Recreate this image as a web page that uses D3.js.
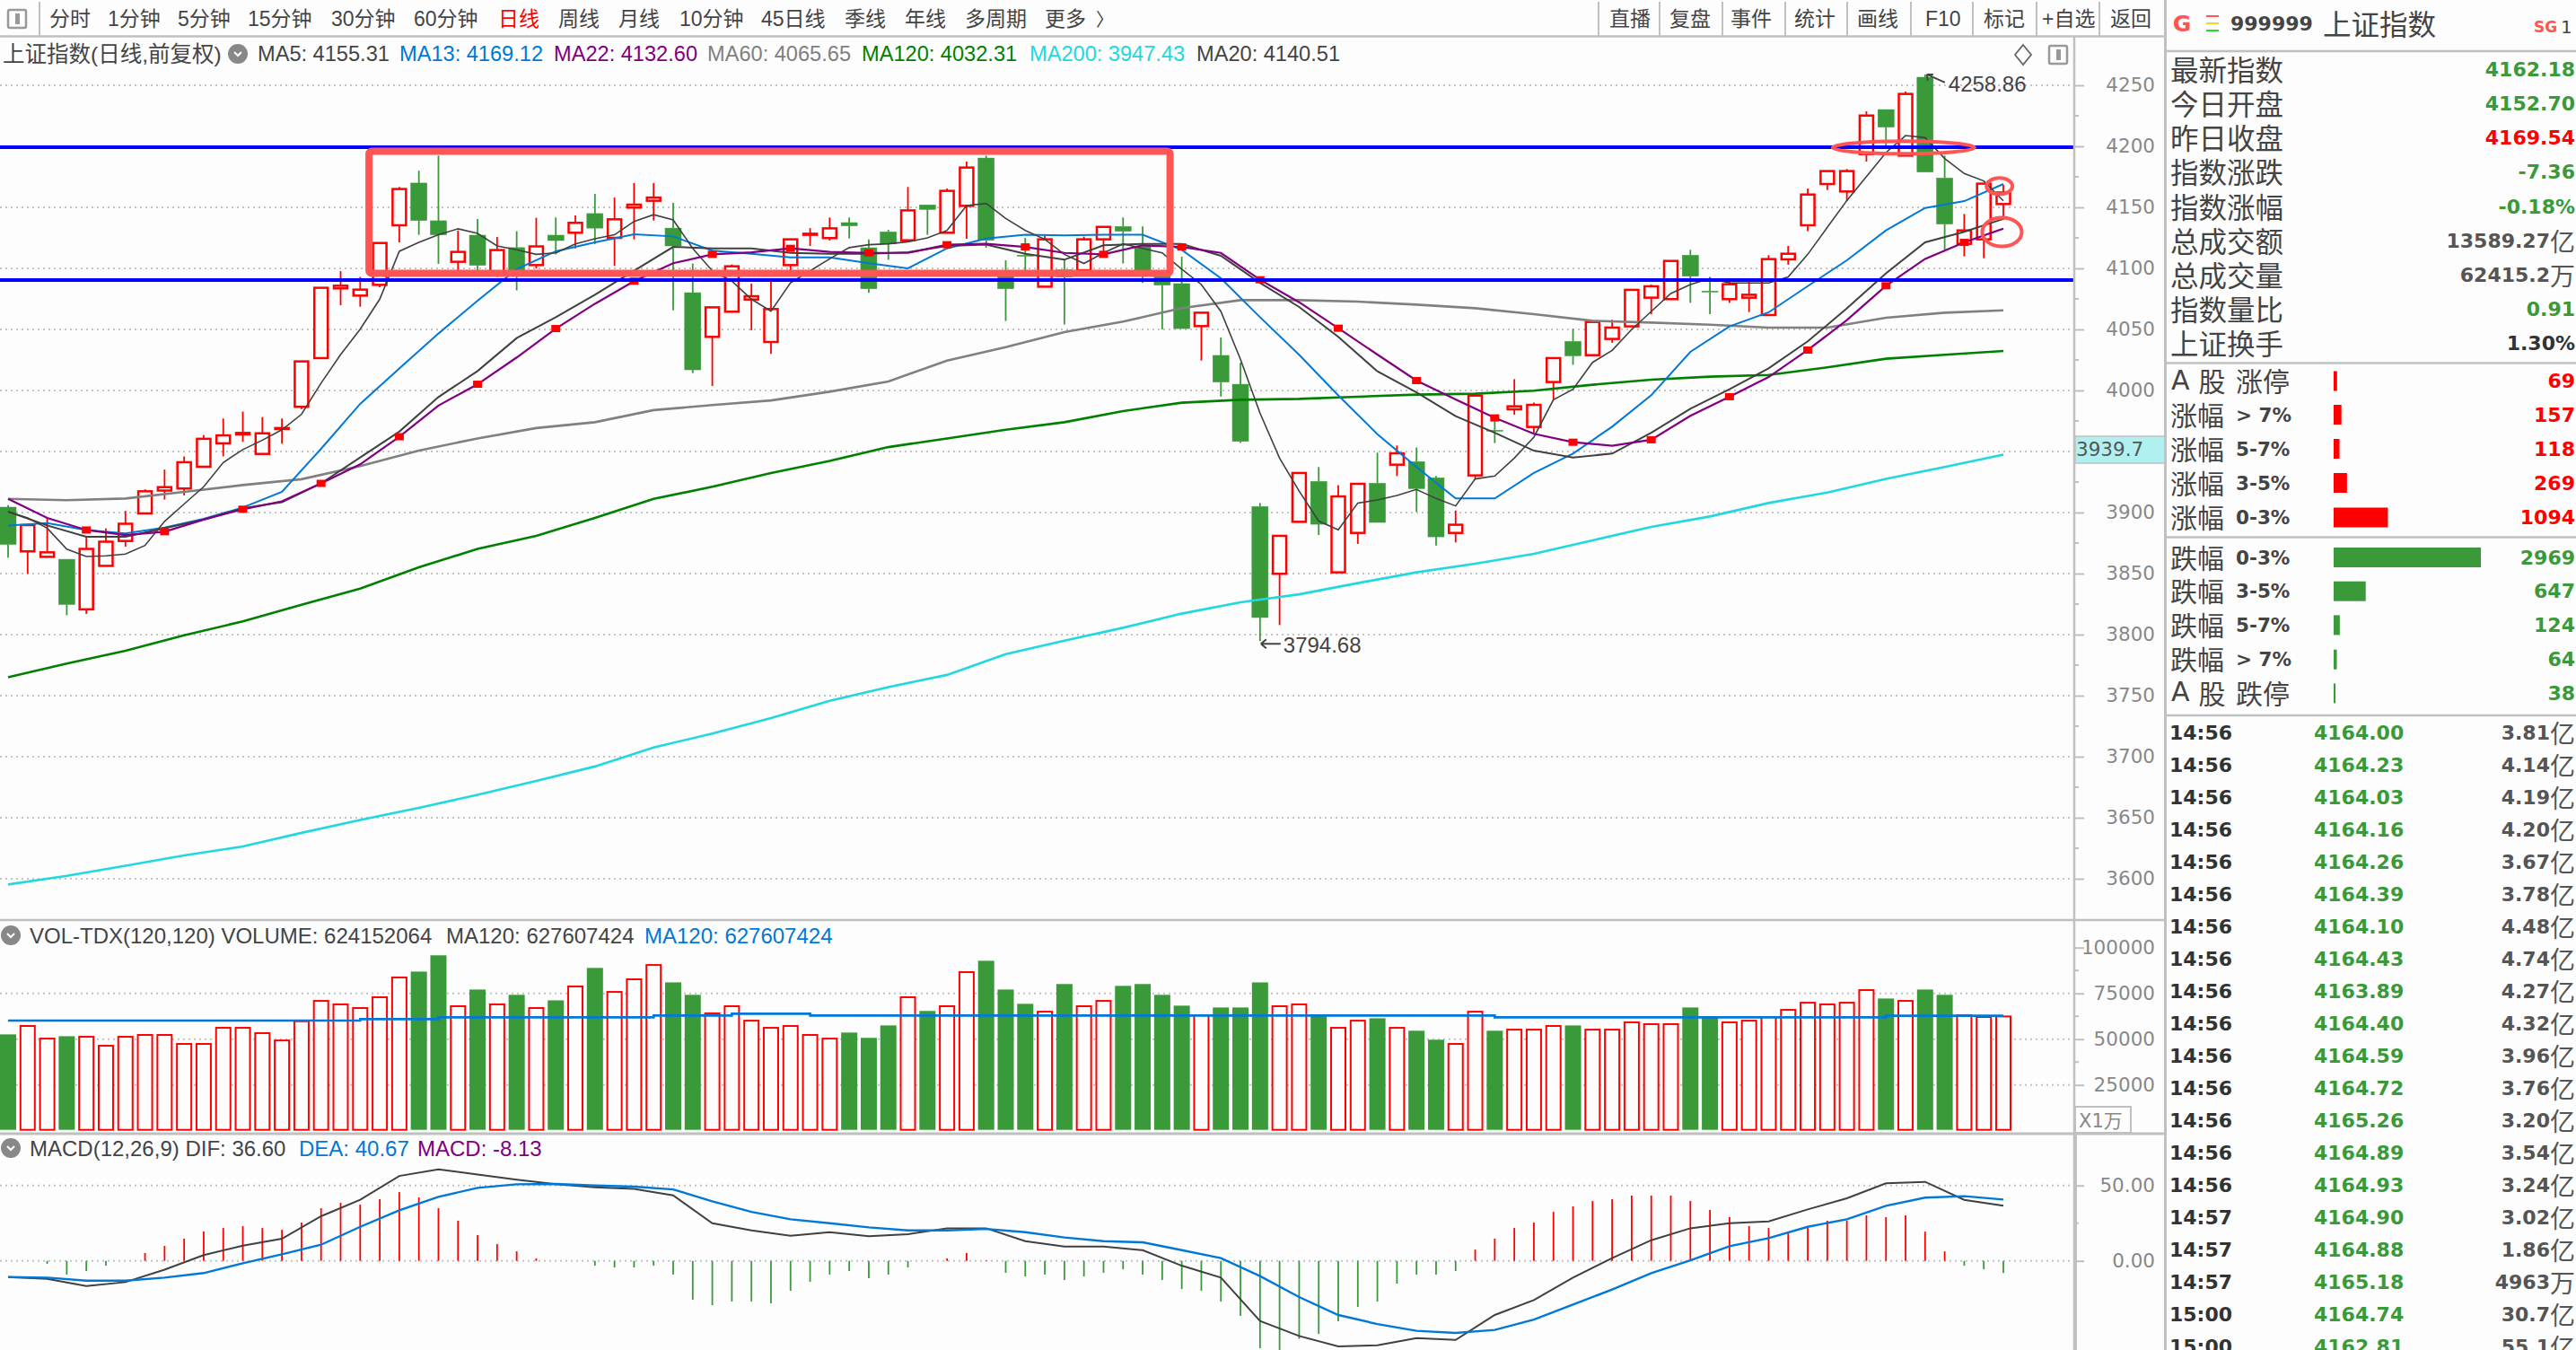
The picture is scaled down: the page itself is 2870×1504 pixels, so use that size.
<!DOCTYPE html>
<html>
<head>
<meta charset="utf-8">
<script src="https://cdn.jsdelivr.net/npm/d3@7"></script>
<style>
html,body{margin:0;padding:0;background:#fdfdfd;overflow:hidden}
svg{display:block}
</style>
</head>
<body>
<div id="chart"></div>
<script>
// daily candles, index 0..102
var opens = [3904.4,3868.2,3863.7,3861.7,3820.7,3856.3,3876.7,3899.3,3918,3919.7,3937.5,3956.7,3964,3948,3968.6,3986.6,4026.5,4083.6,4077.7,4086.5,4135.3,4169.9,4139,4105.4,4127.2,4095,4117,4102.7,4127.2,4129.2,4144.9,4125,4149.8,4155.4,4133,4080.1,4043.9,4064.5,4074.5,4039.7,4102.7,4127.5,4124.8,4137.5,4116.9,4129.9,4123,4152,4129.2,4151.2,4190.4,4095.6,4110.8,4085,4098.8,4098.5,4123.8,4134.3,4118.4,4097,4087.5,4052.7,4028.7,4005.1,3904.9,3849.8,3892.4,3925.5,3851,3883.3,3924,3939.2,3941.7,3928.4,3883.3,3930.4,3967.4,3984.6,3970.1,4006.9,4040.2,4028.9,4042.2,4052.5,4076,4074.8,4110.8,4081.4,4074.8,4076,4061.8,4107.4,4135.3,4169.1,4163,4193.6,4230.1,4192.4,4256.6,4174,4120.1,4123.8,4152.7];
var highs = [3906,3889.7,3895.6,3861.7,3880,3887,3901.3,3919,3935.2,3946,3963.5,3977,3982.7,3978.2,3977,4023.8,4084.1,4097.8,4093,4120.8,4166.7,4180,4192.4,4131,4140.4,4125.7,4130.4,4141.4,4141.7,4143.4,4161,4158,4169.9,4169.9,4153.7,4104,4068.1,4103.2,4087.5,4089.5,4123.8,4133,4141.7,4141.7,4123.8,4131.6,4166.7,4152,4165.4,4187.5,4192.4,4106.6,4125,4126.7,4106.6,4126,4134,4141.7,4134.3,4097,4109.6,4063.7,4043.4,4022.8,3907.8,3880.9,3932.4,3937.3,3922.5,3923.5,3949,3954.9,3953.2,3929.9,3901.7,3995.8,3975.2,4009.3,3990,4026.5,4050.5,4056.1,4057.8,4082.4,4086.8,4106.1,4115.2,4093.1,4090,4089.5,4110.8,4118.4,4165.4,4179.7,4181.4,4228.7,4230.1,4244.9,4258.86,4192.4,4144.6,4169.4,4168.4];
var lows = [3863,3849.8,3863.7,3815.9,3817,3856.3,3872,3899.3,3910.6,3914,3937.5,3946,3957.9,3948,3956.4,3984.7,4026.5,4069.9,4068.6,4084.6,4121.3,4127.5,4103.7,4096.8,4098,4093,4082,4100,4111.5,4116.4,4120,4102,4123.8,4139.2,4065.7,4014.2,4003.7,4064.5,4049.3,4030,4098,4118.4,4122.8,4124.5,4080,4107,4123,4127.5,4129.2,4124.3,4116.9,4056.9,4098,4085,4054,4098.5,4110,4104,4088,4050,4050.7,4024.5,3995,3957,3794.68,3807.8,3892.4,3881.6,3851,3874.3,3891.9,3929.9,3900.5,3873,3875.5,3927.5,3956.9,3980.1,3965.4,3992.4,4021,4028.9,4039,4052.5,4062.3,4074.8,4071.8,4062.5,4071.8,4064.2,4061.8,4103,4130.6,4164.2,4155.1,4187.5,4199.8,4192.4,4178.9,4115.2,4109.8,4108.3,4139.7];
var closes = [3873.9,3889.7,3867.4,3824.7,3870.2,3876.1,3890.8,3917.4,3920.8,3941.2,3960.4,3963.2,3965.2,3964.9,3969.2,4023.8,4084.1,4085.8,4082.6,4120.8,4165,4139.2,4127.5,4113.5,4102.5,4115,4098,4118,4122.8,4137.3,4133,4140.2,4152.2,4158,4118.4,4016.9,4068.1,4101.7,4077.2,4066.7,4123.8,4128.4,4132.8,4134.8,4083.3,4120,4147.5,4148.3,4163.5,4182.6,4123,4083.3,4110,4123.8,4093,4123.8,4134,4130.4,4098,4086.3,4050.7,4063.7,4006.9,3958.3,3814,3880.9,3932.4,3890.4,3913.2,3923.5,3891.9,3948.5,3919.6,3880.1,3890,3995.8,3967,3987,3988.2,4026.5,4028.4,4056.1,4051.5,4082.4,4085.3,4106.1,4093.6,4080.6,4087,4078.4,4107.6,4112,4160.5,4179.7,4179.7,4225.2,4215.7,4242.9,4178.9,4136.3,4131.1,4169.4,4162.18];

// moving averages
var ma5 = [3900.7,3895.6,3887.2,3870,3864,3864.5,3866,3873,3892.8,3907,3921.1,3941,3951.6,3959.3,3967.8,3980.5,4006,4029.4,4050.2,4074.8,4114,4121.3,4127.5,4132.4,4128.7,4118.4,4115.2,4111.5,4112.7,4120.1,4124.3,4127.5,4138.5,4144,4139.7,4116.4,4098,4089.5,4074.8,4065,4088.2,4098,4107.8,4117,4119.4,4120.1,4121.8,4125,4131.1,4151.5,4153.2,4140.9,4131.1,4123.8,4111.5,4104,4112.7,4120.1,4116.4,4112.7,4099.3,4086.8,4064.7,4025.5,3981.4,3944.6,3917.6,3893,3885.8,3907.8,3910.3,3914,3918.9,3911.5,3905.4,3927.5,3929.9,3944.6,3961.8,3992.4,4001,4023,4032.8,4050,4064.7,4079.4,4086.8,4091.7,4088,4088,4088,4093,4111.5,4133.6,4155.6,4175.2,4194.9,4208.8,4207.1,4190,4177.7,4171.6,4155.31];
var ma13 = [3889.4,3891.4,3885.7,3882.9,3887.7,3894.8,3904.1,3916.9,3952.2,3989,4018,4046.6,4073.5,4099.3,4114,4121.3,4127.9,4126.2,4114.5,4112,4109,4109,4104.2,4100,4116.4,4124.5,4127.5,4127,4127.5,4127.5,4115.2,4091.9,4060,4029.2,3996,3964.2,3937.3,3911.5,3911.5,3932.4,3948.3,3970.3,3996.1,4031.6,4052.5,4064,4085.5,4106.6,4131.1,4149.5,4155.1,4169.12];
var ma20 = [3900.7,3889.4,3880.1,3880.1,3887.2,3894.2,3903.6,3908.4,3923.9,3945.1,3966.3,3994.6,4015.9,4042.9,4060,4078.4,4098,4117.6,4116.4,4116.4,4112.7,4112,4112,4113.2,4118.4,4119.4,4112,4107.1,4118.9,4120.1,4120,4110.3,4088.2,4068.4,4043.9,4015.7,3998.5,3978.9,3965.4,3950.7,3945.1,3948.3,3965.4,3985,4001,4018.1,4040.2,4067.2,4096,4121.3,4130,4140.51];
var ma22 = [3911.2,3895.6,3885.7,3881.5,3884.3,3894.2,3902.7,3909.2,3923.9,3939.5,3962.1,3987.6,4005.1,4027,4050.7,4071,4089.5,4104.2,4111.5,4113.2,4116.4,4113.5,4112.7,4112.7,4119.4,4120.1,4117.6,4112.7,4111.5,4118.9,4117.6,4112.7,4090.7,4072.3,4051,4029.4,4008.1,3992.6,3977.5,3964.5,3957.6,3954.7,3959.6,3979.2,3994.9,4011,4033.1,4057.6,4085.8,4107.8,4121.3,4132.6];
var ma60 = [3911.2,3910.1,3911.5,3916.9,3922.5,3927.3,3938,3950.8,3960.7,3969.2,3974,3983.9,3988,3991.8,3999,4007.4,4024.5,4035.5,4047.8,4056.4,4067.4,4074,4074,4072.8,4070.3,4067.4,4062.5,4057.1,4055.6,4053.9,4051.5,4051.5,4059.6,4063.7,4065.65];
var ma120 = [3765,3776.3,3786.8,3799.5,3810.8,3824.4,3837.7,3855.2,3870.2,3880.9,3895.6,3911.2,3921.1,3932.4,3942.3,3953.6,3960.7,3967.8,3974,3983.1,3990,3992.4,3993.1,3994.9,3996.6,3997.3,3999.8,4004.7,4008.8,4011.3,4012.7,4018.9,4026,4029.2,4032.31];
var ma200 = [3595.3,3602.4,3610.6,3619.1,3626.4,3637.6,3648.2,3658.1,3668.8,3680.2,3692,3707.6,3718.9,3731.6,3745.8,3757,3767,3784,3795,3805.6,3817.2,3826.5,3833,3842.2,3851,3858.1,3866.2,3877.2,3888.2,3896.8,3907.8,3916.4,3927.5,3937.3,3947.43];
var everyDay = d3.range(0, 103);
var evenDays = d3.range(0, 103, 2);
var thirdDays = d3.range(0, 103, 3);

// support and resistance lines drawn by hand on the chart
var levelLines = [4199.3, 4090.4];

// volume panel, in 10k
var volumes = [52600,57200,50300,51600,51300,46400,51300,52300,52300,47400,47400,56200,56200,53300,49300,59800,70900,69000,67000,72900,83700,86900,95800,68000,77100,69000,74200,67000,71200,78800,88900,75800,82700,90500,81000,74200,64100,68000,60100,56200,57200,52300,50300,53600,50700,57500,72900,65400,68000,86600,92800,77100,69300,65000,80100,68000,70900,79100,80100,74200,68300,63100,67300,67300,81000,68000,69000,63100,56200,60100,61400,56200,54600,49700,47400,65000,54600,55200,55200,57200,57500,55200,55200,59200,58200,58200,67300,61800,59200,60100,62100,66000,69900,69000,69900,76800,72200,70900,77100,74200,63100,62100,62415];
var volMaDays = [0,18,22,33,37,41,76,96,102];
var volMaValues = [60130,60950,61930,62910,63890,62910,61930,62760,62760];

// MACD panel
var macdBars = [0,0,-2,-9.1,-6.7,-3.2,0,5.2,9.9,14.7,19.4,21.8,23,21.8,20.6,25.4,34.9,38.5,37.3,40.9,45.6,42.1,34.9,26.6,17.1,11.1,6.3,1.6,0,0,-3.2,-4.4,-4.4,-3.2,-9.1,-25.8,-29.4,-27,-27,-28.2,-19.8,-13.9,-9.1,-6.7,-11.5,-9.1,-4.4,0,1.6,5.2,0.4,-7.9,-10.3,-9.1,-12.7,-10.3,-7.9,-5.6,-9.1,-12.7,-18.7,-19.8,-27,-36.5,-57.9,-59.1,-51.7,-48.4,-40.1,-30.6,-27,-15.1,-9.1,-9.1,-6.7,7.5,14.7,21.8,25.4,32.5,36.1,39.7,40.9,43.3,43.3,43.3,39.7,33.7,29,23,21.8,19.4,23,26.6,26.6,30.2,29,30.2,19.4,6.3,-3.2,-5.6,-8.13];
var dif = [-10.7,-11.9,-16.7,-14.1,-5.8,3.8,10.1,14.7,29.6,40.5,56.3,60.7,57.3,53.8,50.8,48.8,47.8,43.4,25,20.2,16.7,19,16.3,17.7,21.6,21.6,13.1,9.5,9.5,7.1,-3.2,-11.1,-39.9,-49.8,-56.7,-56,-51.2,-52.4,-35.9,-26,-11.1,1.8,13.7,21.6,25,26.2,34.1,41.5,51.4,52.4,40.5,36.6];
var dea = [-10.7,-11.1,-13.1,-13.1,-11.1,-8.1,-1.6,4.4,10.7,22.6,33.5,42.5,48.4,50.8,51,50,49.2,47.4,39.5,32.5,27.6,25,22.2,20.2,20.2,21.2,19,15.5,13.1,12.3,7.1,1.8,-10.1,-24,-35.9,-41.9,-46.4,-47.8,-45.8,-38.9,-29,-19,-8.1,0.4,9.7,15.1,22.6,27.6,36.5,41.9,42.9,40.67];

// axis ticks
var priceTicks = [4250,4200,4150,4100,4050,4000,3950,3900,3850,3800,3750,3700,3650,3600];
var priceMinor = [4225,4175,4125,4075,4025,3975,3925,3875,3825,3775,3725,3675,3625];
var volTicks = [100000,75000,50000,25000];
var volMinor = [87500,62500,37500];
var macdTicks = [50,0];
var macdMinor = [25];

// toolbar
var leftTabs = ['分时','1分钟','5分钟','15分钟','30分钟','60分钟','日线','周线','月线','10分钟','45日线','季线','年线','多周期','更多'];
var leftTabX = [55,120,198,276,369,461,555,622,689,757,848,941,1008,1075,1164];
var rightTabs = ['直播','复盘','事件','统计','画线','F10','标记','+自选','返回'];
var rightTabX = [1793,1860,1928,1999,2069,2145,2210,2275,2351];
var tabSeps = [1781,1849,1919,1989,2058,2129,2198,2269,2339];

// legend rows
var maLegend = ['MA5: 4155.31','MA13: 4169.12','MA22: 4132.60','MA60: 4065.65','MA120: 4032.31','MA200: 3947.43','MA20: 4140.51'];
var maLegendX = [287,445,617,788,960,1147,1333];
var maColors = ['#444','#0078d7','#800080','#808080','#008000','#20d8e0','#444'];

// quote panel
var quoteLabels = ['最新指数','今日开盘','昨日收盘','指数涨跌','指数涨幅','总成交额','总成交量','指数量比','上证换手'];
var quoteNums = ['4162.18','4152.70','4169.54','-7.36','-0.18%','13589.27','62415.2','0.91','1.30%'];
var quoteUnits = ['','','','','','亿','万','',''];
var quoteKinds = ['down','down','up','down','down','flat','flat','down','dark'];

var breadthHead = ['A股','涨幅','涨幅','涨幅','涨幅','跌幅','跌幅','跌幅','跌幅','A股'];
var breadthTail = ['涨停','> 7%','5-7%','3-5%','0-3%','0-3%','3-5%','5-7%','> 7%','跌停'];
var breadthCounts = [69,157,118,269,1094,2969,647,124,64,38];
var breadthKinds = ['up','up','up','up','up','down','down','down','down','down'];

var tickTimes = ['14:56','14:56','14:56','14:56','14:56','14:56','14:56','14:56','14:56','14:56','14:56','14:56','14:56','14:56','14:56','14:57','14:57','14:57','15:00','15:00'];
var tickPrices = ['4164.00','4164.23','4164.03','4164.16','4164.26','4164.39','4164.10','4164.43','4163.89','4164.40','4164.59','4164.72','4165.26','4164.89','4164.93','4164.90','4164.88','4165.18','4164.74','4162.81'];
var tickAmounts = ['3.81','4.14','4.19','4.20','3.67','3.78','4.48','4.74','4.27','4.32','3.96','3.76','3.20','3.54','3.24','3.02','1.86','4963','30.7','55.1'];
var tickUnits = ['亿','亿','亿','亿','亿','亿','亿','亿','亿','亿','亿','亿','亿','亿','亿','亿','亿','万','亿','亿'];

var RED = '#ff0000', GREEN = '#3a9a3a', BG = '#fdfdfd', RULE = '#c0c0c0', DARK = '#444', GREY = '#888', MARK = '#ff5555';
var CJK = '"Noto Sans CJK SC",sans-serif', LAT = '"Liberation Sans","Noto Sans CJK SC",sans-serif', NUM = '"DejaVu Sans","Noto Sans CJK SC",sans-serif';
var kindColor = {up: RED, down: GREEN, flat: '#555', dark: '#333'};

var svg = d3.select('#chart').append('svg').attr('width', 2870).attr('height', 1504);
svg.append('rect').attr('width', 2870).attr('height', 1504).attr('fill', BG);

var x = d3.scaleLinear().domain([0, 102]).range([9, 2232]);
var y = d3.scaleLinear().domain([3600, 4250]).range([979, 95]);
var yVol = d3.scaleLinear().domain([0, 100000]).range([1259.7, 1055.7]);
var yMacd = d3.scaleLinear().domain([0, 50]).range([1404.7, 1320.7]);
var AXIS_X = 2311;

function isUp(i){ return closes[i] >= opens[i]; }

function label(g, px, py, txt, font, size, color, anchor, weight){
    return g.append('text')
        .attr('x', px).attr('y', py)
        .attr('dominant-baseline', 'central')
        .attr('text-anchor', anchor || 'start')
        .style('font-family', font)
        .style('font-size', size + 'px')
        .style('font-weight', weight || 400)
        .style('fill', color)
        .text(txt);
}

function hRule(py, x0, x1, w){
    svg.append('line').attr('x1', x0).attr('x2', x1).attr('y1', py).attr('y2', py)
        .attr('stroke', RULE).attr('stroke-width', w || 2.5);
}
function vRule(px, y0, y1, w){
    svg.append('line').attr('x1', px).attr('x2', px).attr('y1', y0).attr('y2', y1)
        .attr('stroke', RULE).attr('stroke-width', w || 2.5);
}

function dotted(scale, values){
    svg.append('g').selectAll('line').data(values).enter().append('line')
        .attr('x1', 0).attr('x2', AXIS_X)
        .attr('y1', function(d){ return scale(d); })
        .attr('y2', function(d){ return scale(d); })
        .attr('stroke', '#c4c4c4').attr('stroke-width', 2).attr('stroke-dasharray', '2 4');
}

function drawAxis(scale, major, minor, fmt){
    var axis = d3.axisRight(scale).tickValues(major).tickSize(11).tickPadding(0).tickFormat(fmt);
    var g = svg.append('g').attr('transform', 'translate(' + AXIS_X + ',0)').call(axis);
    g.select('.domain').remove();
    g.selectAll('line').attr('stroke', RULE).attr('stroke-width', 2);
    g.selectAll('text')
        .attr('x', 90)
        .attr('text-anchor', 'end')
        .style('font-family', NUM)
        .style('font-size', '21.5px')
        .style('fill', GREY);
    svg.append('g').selectAll('line').data(minor).enter().append('line')
        .attr('x1', AXIS_X).attr('x2', AXIS_X + 5)
        .attr('y1', function(d){ return scale(d); })
        .attr('y2', function(d){ return scale(d); })
        .attr('stroke', RULE).attr('stroke-width', 2);
}

// grids first so everything sits over them
dotted(y, priceTicks);
dotted(yVol, [75000, 50000, 25000]);
dotted(yMacd, macdTicks);

// candles
var candles = svg.append('g');
candles.selectAll('.wick-up').data(everyDay).enter().append('line')
    .attr('x1', function(i){ return x(i); }).attr('x2', function(i){ return x(i); })
    .attr('y1', function(i){ return y(highs[i]); })
    .attr('y2', function(i){ return y(Math.max(opens[i], closes[i])); })
    .attr('stroke', function(i){ return isUp(i) ? RED : GREEN; }).attr('stroke-width', 1.8);
candles.selectAll('.wick-down').data(everyDay).enter().append('line')
    .attr('x1', function(i){ return x(i); }).attr('x2', function(i){ return x(i); })
    .attr('y1', function(i){ return y(Math.min(opens[i], closes[i])); })
    .attr('y2', function(i){ return y(lows[i]); })
    .attr('stroke', function(i){ return isUp(i) ? RED : GREEN; }).attr('stroke-width', 1.8);
candles.selectAll('rect').data(everyDay).enter().append('rect')
    .attr('x', function(i){ return x(i) - (isUp(i) ? 7.5 : 9); })
    .attr('width', function(i){ return isUp(i) ? 15 : 18; })
    .attr('y', function(i){ return y(Math.max(opens[i], closes[i])); })
    .attr('height', function(i){ return Math.max(1, Math.abs(y(opens[i]) - y(closes[i]))); })
    .attr('fill', function(i){ return isUp(i) ? BG : GREEN; })
    .attr('stroke', function(i){ return isUp(i) ? RED : GREEN; })
    .attr('stroke-width', function(i){ return isUp(i) ? 2.5 : 0.5; });

// moving averages
function maLine(values, days, color, w){
    var path = d3.line()
        .x(function(d, i){ return x(days[i]); })
        .y(function(d){ return y(d); });
    svg.append('path').attr('d', path(values))
        .attr('fill', 'none').attr('stroke', color).attr('stroke-width', w);
}
maLine(ma200, thirdDays, '#20d8e0', 2.6);
maLine(ma120, thirdDays, '#008000', 2.6);
maLine(ma60, thirdDays, '#808080', 2.6);
maLine(ma13, evenDays, '#0078d7', 2);
maLine(ma20, evenDays, '#404040', 2);
maLine(ma5, everyDay, '#404040', 1.6);
maLine(ma22, evenDays, '#800080', 2.2);

// red ticks sit on MA22 every 4th day
svg.append('g').selectAll('rect')
    .data(evenDays.filter(function(d){ return d > 0 && d % 4 === 0 && d < 102; }))
    .enter().append('rect')
    .attr('x', function(d){ return x(d) - 5; })
    .attr('y', function(d){ return y(ma22[d / 2]) - 4; })
    .attr('width', 10).attr('height', 8)
    .attr('fill', RED);

// hand drawn marks
svg.append('g').selectAll('line').data(levelLines).enter().append('line')
    .attr('x1', 0).attr('x2', AXIS_X - 1)
    .attr('y1', function(d){ return y(d); })
    .attr('y2', function(d){ return y(d); })
    .attr('stroke', '#0000ff').attr('stroke-width', 4);

svg.append('rect')
    .attr('x', x(18.45)).attr('y', y(4196))
    .attr('width', x(59.4) - x(18.45)).attr('height', y(4096) - y(4196))
    .attr('rx', 3)
    .attr('fill', 'none').attr('stroke', MARK).attr('stroke-width', 8);

var rings = [[96.9, 4199, 79, 7], [101.8, 4167.4, 14.5, 9], [101.93, 4129.8, 22, 16]];
svg.append('g').selectAll('ellipse').data(rings).enter().append('ellipse')
    .attr('cx', function(d){ return x(d[0]); })
    .attr('cy', function(d){ return y(d[1]); })
    .attr('rx', function(d){ return d[2]; })
    .attr('ry', function(d){ return d[3]; })
    .attr('fill', 'none').attr('stroke', MARK).attr('stroke-width', 4);

// high and low labels
var hi = d3.max(highs), lo = d3.min(lows);
var hiDay = highs.indexOf(hi), loDay = lows.indexOf(lo);
svg.append('path')
    .attr('d', 'M' + (x(hiDay) + 2) + ',' + y(hi) + 'L' + (x(hiDay) + 22) + ',' + (y(hi) + 9)
        + 'M' + (x(hiDay) + 2) + ',' + y(hi) + 'l1,7 M' + (x(hiDay) + 2) + ',' + y(hi) + 'l7,0')
    .attr('fill', 'none').attr('stroke', DARK).attr('stroke-width', 2);
label(svg, x(hiDay) + 26, y(hi) + 11, d3.format('.2f')(hi), LAT, 24, DARK);
svg.append('path')
    .attr('d', 'M' + (x(loDay) + 1) + ',' + (y(lo) + 3) + 'h22 M' + (x(loDay) + 1) + ',' + (y(lo) + 3) + 'l6,-5 M' + (x(loDay) + 1) + ',' + (y(lo) + 3) + 'l6,5')
    .attr('fill', 'none').attr('stroke', DARK).attr('stroke-width', 2);
label(svg, x(loDay) + 26, y(lo) + 4, d3.format('.2f')(lo), LAT, 24, DARK);

// volume
var vols = svg.append('g');
vols.selectAll('rect').data(everyDay).enter().append('rect')
    .attr('x', function(i){ return x(i) - (isUp(i) ? 8 : 9); })
    .attr('width', function(i){ return isUp(i) ? 16 : 18; })
    .attr('y', function(i){ return yVol(volumes[i]); })
    .attr('height', function(i){ return yVol(0) - yVol(volumes[i]) - 1; })
    .attr('fill', function(i){ return isUp(i) ? BG : GREEN; })
    .attr('stroke', function(i){ return isUp(i) ? RED : GREEN; })
    .attr('stroke-width', function(i){ return isUp(i) ? 2 : 0; });
svg.append('path')
    .attr('d', d3.line().curve(d3.curveStepAfter)
        .x(function(d, i){ return x(volMaDays[i]); })
        .y(function(d){ return yVol(d); })(volMaValues))
    .attr('fill', 'none').attr('stroke', '#0078d7').attr('stroke-width', 2.6);

// macd
svg.append('g').selectAll('line').data(everyDay).enter().append('line')
    .attr('x1', function(i){ return x(i); }).attr('x2', function(i){ return x(i); })
    .attr('y1', yMacd(0))
    .attr('y2', function(i){ return yMacd(macdBars[i]); })
    .attr('stroke', function(i){ return macdBars[i] >= 0 ? RED : GREEN; })
    .attr('stroke-width', 1.8);
function macdLine(values, color, w){
    var path = d3.line()
        .x(function(d, i){ return x(evenDays[i]); })
        .y(function(d){ return yMacd(d); });
    svg.append('path').attr('d', path(values))
        .attr('fill', 'none').attr('stroke', color).attr('stroke-width', w);
}
macdLine(dif, '#404040', 2);
macdLine(dea, '#0078d7', 2.4);

// frame
hRule(40.5, 0, 2413);
hRule(1025, 0, 2413);
hRule(1263, 0, 2413, 3);
vRule(AXIS_X, 40, 1504);
vRule(AXIS_X + 2, 1263, 1504, 2);
vRule(2412.5, 0, 1504, 3);

drawAxis(y, priceTicks, priceMinor, d3.format('d'));
drawAxis(yVol, volTicks, volMinor, d3.format('d'));
drawAxis(yMacd, macdTicks, macdMinor, d3.format('.2f'));

// last price tag on the axis
svg.append('rect').attr('x', AXIS_X + 1).attr('y', 486).attr('width', 100).attr('height', 30)
    .attr('fill', '#b0f0f0').attr('stroke', RULE).attr('stroke-width', 1.5);
label(svg, AXIS_X + 2, 500, '3939.7', NUM, 21.5, '#555');

// X1万 box
svg.append('rect').attr('x', AXIS_X + 1).attr('y', 1233).attr('width', 62).attr('height', 29)
    .attr('fill', 'none').attr('stroke', RULE).attr('stroke-width', 2);
label(svg, AXIS_X + 5, 1249, 'X1万', NUM, 21, GREY);

// toolbar
var bar = svg.append('g');
bar.append('rect').attr('x', 9).attr('y', 11).attr('width', 20).attr('height', 20).attr('rx', 2)
    .attr('fill', 'none').attr('stroke', '#999').attr('stroke-width', 2.5);
bar.append('rect').attr('x', 17).attr('y', 15).attr('width', 5).attr('height', 12).attr('fill', '#999');
vRule(44, 2, 40, 2);
leftTabs.forEach(function(t, i){
    label(bar, leftTabX[i], 21, t, LAT, 23, t === '日线' ? RED : DARK);
});
label(bar, 1221, 20, '〉', CJK, 20, DARK);
tabSeps.forEach(function(px){ vRule(px, 2, 40, 2); });
rightTabs.forEach(function(t, i){
    label(bar, rightTabX[i], 21, t, LAT, 23, DARK);
});

// little round gear badge in front of each title
function badge(cy, cx){
    svg.append('circle').attr('cx', cx).attr('cy', cy).attr('r', 11).attr('fill', '#888');
    svg.append('path').attr('d', 'M' + (cx - 4) + ',' + (cy - 2) + 'l4,4 l4,-4')
        .attr('fill', 'none').attr('stroke', '#fff').attr('stroke-width', 2);
}

label(svg, 3, 60, '上证指数(日线,前复权)', LAT, 24.5, DARK);
badge(60, 265);
maLegend.forEach(function(t, i){
    label(svg, maLegendX[i], 60, t, LAT, 23.6, maColors[i]);
});
svg.append('path').attr('d', 'M2254,50 L2263,61 L2254,72 L2245,61 Z')
    .attr('fill', 'none').attr('stroke', '#666').attr('stroke-width', 1.8);
svg.append('rect').attr('x', 2283).attr('y', 51).attr('width', 20).attr('height', 20).attr('rx', 2)
    .attr('fill', 'none').attr('stroke', '#999').attr('stroke-width', 2.5);
svg.append('rect').attr('x', 2291).attr('y', 55).attr('width', 5).attr('height', 12).attr('fill', '#999');

badge(1042, 12);
label(svg, 33, 1042, 'VOL-TDX(120,120)  VOLUME: 624152064', LAT, 24, DARK);
label(svg, 497, 1042, 'MA120: 627607424', LAT, 24, DARK);
label(svg, 718, 1042, 'MA120: 627607424', LAT, 24, '#0078d7');

badge(1279, 12);
label(svg, 33, 1279, 'MACD(12,26,9)  DIF: 36.60', LAT, 24, DARK);
label(svg, 333, 1279, 'DEA: 40.67', LAT, 24, '#0078d7');
label(svg, 465, 1279, 'MACD: -8.13', LAT, 24, '#800080');

// right panel header
label(svg, 2431, 26, 'G', NUM, 25, '#ff5555', 'middle', 700);
['#ff5555', '#ffd020', '#22dd22'].forEach(function(c, i){
    svg.append('rect').attr('x', 2458).attr('y', 17 + i * 8).attr('width', 14).attr('height', 2).attr('fill', c);
});
label(svg, 2485, 26, '999999', NUM, 22, '#444', 'start', 700);
label(svg, 2588, 25, '上证指数', CJK, 31.5, '#444');
label(svg, 2823, 30, 'SG', NUM, 17, '#ff5555', 'start', 700);
label(svg, 2853, 30, '1', NUM, 20, '#444');

hRule(57, 2413, 2870);
hRule(404.5, 2413, 2870);
hRule(598.5, 2413, 2870);
hRule(797, 2413, 2870);

var panel = svg.append('g');
quoteLabels.forEach(function(t, i){
    var py = 77.6 + i * 38.1;
    label(panel, 2418, py - 1.5, t, CJK, 31.5, '#444');
    var txt = label(panel, 2869, py, quoteNums[i], NUM, 22, kindColor[quoteKinds[i]], 'end', 700);
    if (quoteUnits[i]) {
        txt.append('tspan').style('font-family', CJK).style('font-size', '28px').style('font-weight', 400).text(quoteUnits[i]);
    }
});

var barW = d3.scaleLinear().domain([0, 2969]).range([0, 164]);
var rowY = [424.5, 462, 500, 538, 576.5, 621, 658.7, 696.4, 734.7, 772.4];
breadthCounts.forEach(function(n, i){
    var py = rowY[i];
    var c = kindColor[breadthKinds[i]];
    if (breadthHead[i].charAt(0) === 'A') {
        var h = label(panel, 2419, py - 1.5, 'A', NUM, 30, '#444');
        h.append('tspan').attr('dx', 10).style('font-family', CJK).text(breadthHead[i].slice(1));
    } else {
        label(panel, 2418, py - 1.5, breadthHead[i], CJK, 30, '#444');
    }
    if (/^[涨跌]/.test(breadthTail[i])) {
        label(panel, 2491, py - 1.5, breadthTail[i], CJK, 30, '#444');
    } else {
        label(panel, 2491, py, breadthTail[i], NUM, 21.5, '#444', 'start', 700);
    }
    panel.append('rect').attr('x', 2600).attr('y', py - 11)
        .attr('width', Math.max(2, barW(n))).attr('height', 22).attr('fill', c);
    label(panel, 2869, py, n, NUM, 22, c, 'end', 700);
});

tickTimes.forEach(function(t, i){
    var py = 816 + i * 36;
    label(panel, 2417, py, t, NUM, 22, '#333', 'start', 700);
    label(panel, 2578, py, tickPrices[i], NUM, 22, GREEN, 'start', 700);
    var a = label(panel, 2869, py, tickAmounts[i], NUM, 22, '#555', 'end', 700);
    a.append('tspan').style('font-family', CJK).style('font-size', '28px').style('font-weight', 400).text(tickUnits[i]);
});
</script>
</body>
</html>
